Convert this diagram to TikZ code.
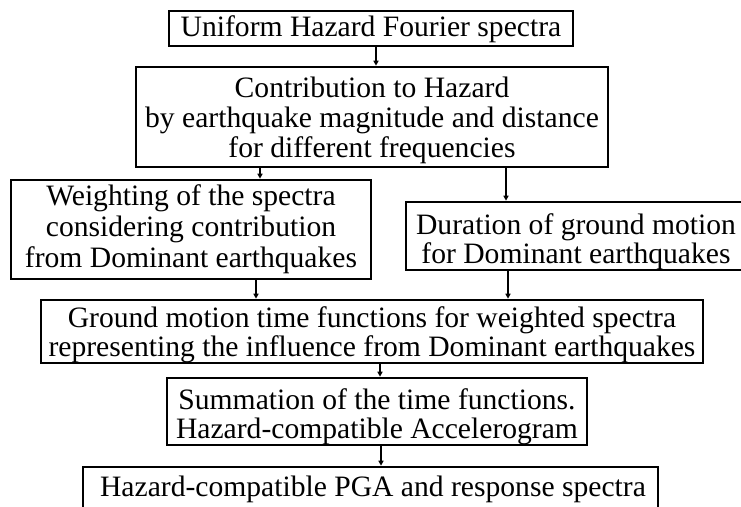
\documentclass[tikz,border=0pt]{standalone}
\usepackage{fontspec}
\setmainfont{Liberation Serif}
\usetikzlibrary{arrows.meta}
\newcommand{\tpad}[1]{\rule{0pt}{#1pt}}
\newcommand{\bpad}[1]{\rule[-#1pt]{0pt}{#1pt}}
\tikzset{
  box/.style={draw, line width=2.6pt, align=center, inner sep=0pt, font=\fontsize{29.6}{29}\selectfont},
  arr/.style={-{Triangle[length=5pt,width=5pt]}, line width=1.6pt},
}
\begin{document}
\begin{tikzpicture}[x=1pt, y=-1pt]
\useasboundingbox (0,0) rectangle (741,506);
% boxes
\node[box, minimum width=404pt] (uhfs) at (371,28.5) {\tpad{25}Uniform Hazard Fourier spectra\bpad{10}};
\node[box, minimum width=472pt, font=\fontsize{29.6}{30}\selectfont] (contrib) at (372,117) {\tpad{30}Contribution to Hazard\\by earthquake magnitude and distance\\for different frequencies\bpad{10}};
\node[box, minimum width=360pt, font=\fontsize{29.6}{31}\selectfont] (weight) at (191,229.5) {\tpad{25}Weighting of the spectra\\considering contribution\\from Dominant earthquakes\bpad{12}};
\node[box, minimum width=340pt] (durat) at (576,236) {\tpad{32}Duration of ground motion\\for Dominant earthquakes\bpad{7}};
\node[box, minimum width=662pt] (timefn) at (372,331.5) {\tpad{27}Ground motion time functions for weighted spectra\\representing the influence from Dominant earthquakes\bpad{7}};
\node[box, minimum width=420pt] (summ) at (377,411.5) {\tpad{31}Summation of the time functions.\\Hazard-compatible Accelerogram\bpad{7}};
\node[box, minimum width=575pt] (pga) at (370.5,487.5) {\tpad{29}\hspace*{5pt}Hazard-compatible PGA and response spectra\bpad{12}};
% arrow positions
\coordinate (ka) at (376,0);
\coordinate (kb) at (260,0);
\coordinate (kc) at (506,0);
\coordinate (kd) at (256,0);
\coordinate (ke) at (508,0);
\coordinate (kf) at (380,0);
\coordinate (kg) at (381,0);
% arrows
\draw[arr] (uhfs.south -| ka) -- (contrib.north -| ka);
\draw[arr] (contrib.south -| kb) -- (weight.north -| kb);
\draw[arr] (contrib.south -| kc) -- (durat.north -| kc);
\draw[arr] (weight.south -| kd) -- (timefn.north -| kd);
\draw[arr] (durat.south -| ke) -- (timefn.north -| ke);
\draw[arr] (timefn.south -| kf) -- (summ.north -| kf);
\draw[arr] (summ.south -| kg) -- (pga.north -| kg);
\end{tikzpicture}
\end{document}
